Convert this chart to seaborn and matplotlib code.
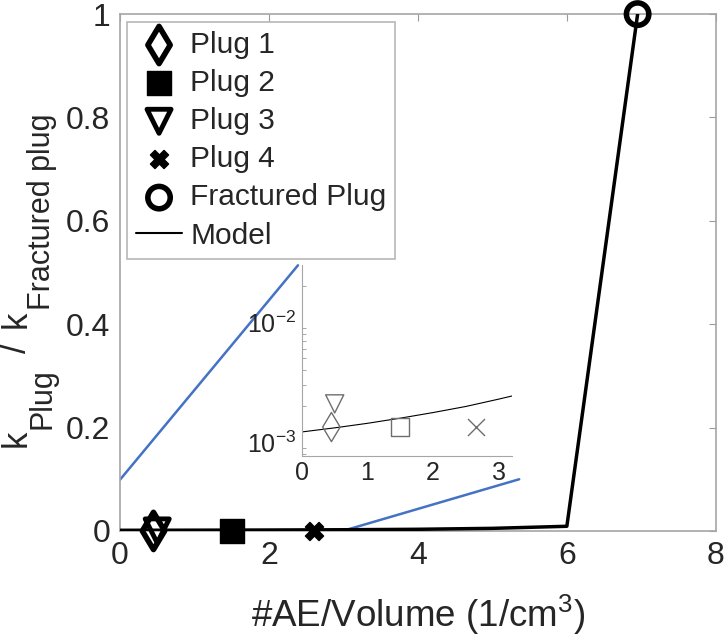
import matplotlib
matplotlib.use('Agg')
import matplotlib.pyplot as plt
import matplotlib.transforms as mtrans
import seaborn as sns

# data
plug_names = ['Plug 1', 'Plug 2', 'Plug 3', 'Plug 4', 'Fractured Plug']
plug_ae = [0.45, 1.5, 0.5, 2.6, 6.95]
plug_k = [0.0, 0.0, 0.0, 0.0, 1.0]

inset_names = ['Plug 1', 'Plug 2', 'Plug 3', 'Plug 4']
inset_ae = [0.45, 1.5, 0.5, 2.65]
inset_k = [1.35e-3, 1.35e-3, 2.1e-3, 1.35e-3]

model_ae = [0, 1, 2, 3, 4, 5, 6, 6.95]
model_k = [1.23e-3, 1.45e-3, 1.78e-3, 2.3e-3, 3.2e-3, 5.0e-3, 9.0e-3, 1.0]

inset_model_ae = [0, 0.5, 1, 1.5, 2, 2.5, 3, 3.2]
inset_model_k = [1.23e-3, 1.33e-3, 1.45e-3, 1.6e-3, 1.78e-3, 2.0e-3, 2.3e-3, 2.44e-3]

blue1_x = [0, 2.39]
blue1_y = [0.099, 0.514]
blue2_x = [2.99, 5.36]
blue2_y = [0.0, 0.1]

sns.set_style('white')
plt.rcParams['font.family'] = ['Liberation Sans', 'DejaVu Sans']
plt.rcParams['mathtext.default'] = 'regular'

styles = {
    'Plug 1': dict(marker='d', fill=False, s=360, lw=4.0),
    'Plug 2': dict(marker='s', fill=True, s=300, lw=1.0),
    'Plug 3': dict(marker='v', fill=False, s=300, lw=3.5),
    'Plug 4': dict(marker='X', fill=True, s=170, lw=1.0),
    'Fractured Plug': dict(marker='o', fill=False, s=260, lw=4.0),
}

fig = plt.figure(figsize=(7.24, 6.42), dpi=100)
ax = fig.add_axes([0.1657, 0.173, 0.823, 0.805])

sns.lineplot(x=blue1_x, y=blue1_y, color='#4472C4', linewidth=1.8, ax=ax)
sns.lineplot(x=blue2_x, y=blue2_y, color='#4472C4', linewidth=1.8, ax=ax)
sns.lineplot(x=model_ae, y=model_k, color='black', linewidth=2.5, ax=ax, zorder=3)

for name, x, y in zip(plug_names, plug_ae, plug_k):
    st = styles[name]
    sns.scatterplot(x=[x], y=[y], marker=st['marker'], s=st['s'],
                    facecolor='black' if st['fill'] else 'none',
                    edgecolor='black', linewidth=st['lw'], ax=ax, zorder=5,
                    clip_on=False, label=name)

ax.plot([], [], color='black', linewidth=1.5, label='Model')

ax.set_xlim(0, 8)
ax.set_ylim(0, 1)
ax.set_xticks([0, 2, 4, 6, 8])
ax.set_yticks([0, 0.2, 0.4, 0.6, 0.8, 1])
ax.set_yticklabels(['0', '0.2', '0.4', '0.6', '0.8', '1'])
ax.tick_params(direction='in', length=5, color='#999999', labelsize=23,
               top=True, right=True, pad=7)
for sp in ax.spines.values():
    sp.set_color('#a6a6a6')
    sp.set_linewidth(1.2)
ax.set_xlabel('#AE/Volume (1/cm$^3$)', fontsize=26.5, labelpad=16)

leg = ax.legend(loc='upper left', bbox_to_anchor=(0.0117, 0.985), fontsize=21.5,
                frameon=True, fancybox=False, labelspacing=0.34,
                handlelength=1.55, handletextpad=0.27, borderpad=0.3,
                borderaxespad=0.0)
leg.get_frame().set_edgecolor('#a6a6a6')
leg.get_frame().set_linewidth(1.2)

# inset
ins = fig.add_axes([0.417, 0.29, 0.290, 0.297])
sns.lineplot(x=inset_model_ae, y=inset_model_k, color='black', linewidth=0.8, ax=ins)
for name, x, y in zip(inset_names, inset_ae, inset_k):
    st = styles[name]
    if name == 'Plug 4':
        sns.scatterplot(x=[x], y=[y], marker='x', s=150, color='#6e6e6e',
                        linewidth=1.0, ax=ins, zorder=4)
    else:
        sns.scatterplot(x=[x], y=[y], marker=st['marker'], s=220 if name == 'Plug 1' else 170,
                        facecolor='none', edgecolor='#6e6e6e',
                        linewidth=1.0, ax=ins, zorder=4)
ins.set_yscale('log')
ins.set_xlim(0, 3.2)
ins.set_ylim(7.8e-4, 0.0296)
ins.set_xticks([0, 1, 2, 3])
ins.tick_params(which='both', direction='in', color='#999999', labelsize=18,
                top=False, right=False, pad=4)
ins.tick_params(which='major', length=5)
ins.tick_params(which='minor', length=3, left=True)
for sp in ins.spines.values():
    sp.set_color('#a6a6a6')
ins.spines['top'].set_visible(False)
ins.spines['right'].set_visible(False)
ins.set_facecolor('none')
if ins.get_legend():
    ins.get_legend().remove()

# y label: k_Plug / k_Fractured plug, subscripts nearly full size (MATLAB look)
H = 642
renderer = fig.canvas.get_renderer()
ident = mtrans.IdentityTransform()
label_pieces = [('k', 25, 26, 1), ('Plug', 22, 50, 15), ('/', 25, 26, 15),
                ('k', 25, 26, 1), ('Fractured plug', 22, 50, 0)]
ypos = H - 447
for txt, size, xb, gap in label_pieces:
    t = fig.text(xb, ypos, txt, fontsize=size, rotation=90, rotation_mode='anchor',
                 ha='left', va='baseline', transform=ident)
    ypos += t.get_window_extent(renderer).height + gap

fig.savefig('out.png', dpi=100)
